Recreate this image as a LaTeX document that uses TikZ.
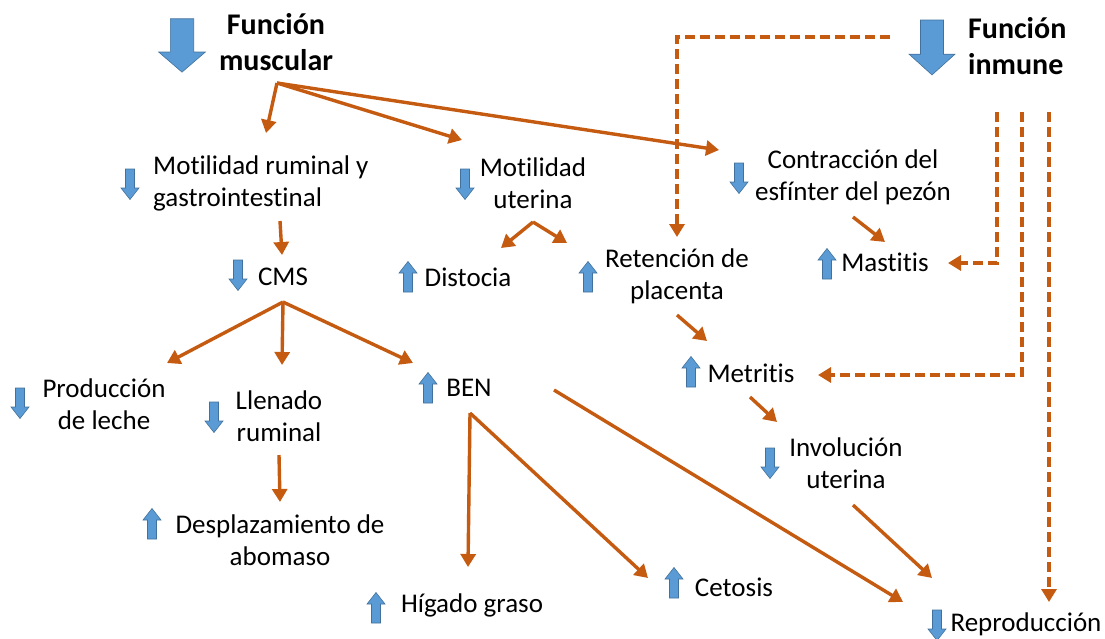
\documentclass[tikz,border=0pt]{standalone}
\usepackage{fontspec}
\setmainfont{Carlito}[Ligatures = {NoCommon, NoContextual}]
\usetikzlibrary{arrows.meta}
\definecolor{naranja}{HTML}{C55A11}
\definecolor{azul}{HTML}{5B9BD5}
\definecolor{azulosc}{HTML}{41719C}
\newcommand{\sinlig}{\kern0pt}

\begin{document}
\begin{tikzpicture}[x = 1pt, y = -1pt,
		txt/.style = {font = \fontsize{27}{32}\selectfont, align = center, inner sep = 0pt},
		tit/.style = {font = \fontsize{30}{36}\selectfont\bfseries, inner sep = 0pt},
		flecha/.style = {draw = naranja, line width = 3.4pt, -{Triangle[length = 13pt, width = 15pt]}},
		guion/.style = {flecha, dash pattern = on 10pt off 5pt},
		bajo/.pic = {\filldraw[fill = azul, draw = azulosc, line width = 0.6pt] (-4.5, -15) -- (4.5, -15) -- (4.5, 4) -- (9, 4) -- (0, 15.5) -- (-9, 4) -- (-4.5, 4) -- cycle;},
		sube/.pic = {\filldraw[fill = azul, draw = azulosc, line width = 0.6pt] (-4.5, 15) -- (4.5, 15) -- (4.5, -4) -- (9, -4) -- (0, -15.5) -- (-9, -4) -- (-4.5, -4) -- cycle;}]
	\useasboundingbox (0, 0) rectangle (1105, 638);

	\node[tit, align = center] (musc) at (276, 42) {Función\\muscular};
	\node[tit, align = left, anchor = west] (inmu) at (968, 46) {Función\\inmune};
	\node[txt, align = left, anchor = west] (rum) at (153, 183) {Mot\sinlig ilidad ruminal y\\gastrointest\sinlig inal};
	\node[txt] (ute) at (533, 183) {Mot\sinlig ilidad\\uterina};
	\node[txt] (con) at (853, 177) {Contracción del\\esf\sinlig ínter del pezón};
	\node[txt] (cms) at (283, 277) {CMS};
	\node[txt] (dis) at (468, 277) {Distocia};
	\node[txt] (ret) at (677, 276) {Retención de\\placenta};
	\node[txt] (mas) at (885, 262) {Mast\sinlig it\sinlig is};
	\node[txt] (pro) at (104, 404) {Producción\\de leche};
	\node[txt] (lle) at (279, 416) {Llenado\\ruminal};
	\node[txt] (ben) at (469, 388) {BEN};
	\node[txt] (met) at (751, 373) {Metrit\sinlig is};
	\node[txt] (inv) at (846, 463) {Involución\\uterina};
	\node[txt] (des) at (280, 540) {Desplazamiento de\\abomaso};
	\node[txt] (hig) at (472, 605) {Hígado graso};
	\node[txt] (cet) at (734, 587) {Cetosis};
	\node[txt] (rep) at (1026, 624) {Reproducción};

	\pic[xscale = 2.6, yscale = 1.75] at (182, 45) {bajo};
	\pic[xscale = 2.55, yscale = 1.8] at (932, 47) {bajo};
	\pic at (130, 184) {bajo};
	\pic at (465, 184) {bajo};
	\pic at (739, 178) {bajo};
	\pic at (238, 275) {bajo};
	\pic at (408, 277) {sube};
	\pic at (588, 277) {sube};
	\pic at (827, 264) {sube};
	\pic at (20, 403) {bajo};
	\pic at (214, 417) {bajo};
	\pic at (428, 388) {sube};
	\pic at (691, 372) {sube};
	\pic at (770, 463) {bajo};
	\pic at (152, 524) {sube};
	\pic at (376, 608) {sube};
	\pic at (674, 583) {sube};
	\pic at (937, 625) {bajo};

	\coordinate (musc-o) at (277, 83);
	\coordinate (rum-i) at (266, 133);
	\coordinate (ute-i) at (462, 140);
	\coordinate (con-i) at (719, 150);
	\coordinate (rum-o) at (280, 221);
	\coordinate (cms-i) at (282, 255);
	\coordinate (cms-o) at (283, 302);
	\coordinate (pro-i) at (167, 363);
	\coordinate (lle-i) at (282, 365);
	\coordinate (ben-i) at (413, 363);
	\coordinate (ute-o) at (533, 222);
	\coordinate (dis-i) at (501, 248);
	\coordinate (ret-i) at (567, 243);
	\coordinate (con-o) at (853, 217);
	\coordinate (mas-i) at (885, 242);
	\coordinate (lle-o) at (279, 455);
	\coordinate (des-i) at (280, 502);
	\coordinate (ben-o) at (470, 413);
	\coordinate (hig-i) at (468, 567);
	\coordinate (cet-i) at (648, 578);
	\coordinate (ben-r) at (554, 390);
	\coordinate (rep-b) at (903, 602);
	\coordinate (ret-o) at (677, 315);
	\coordinate (met-i) at (707, 341);
	\coordinate (met-o) at (750, 397);
	\coordinate (inv-i) at (777, 422);
	\coordinate (inv-o) at (853, 505);
	\coordinate (rep-i) at (932, 578);

	\draw[flecha] (musc-o) -- (rum-i);
	\draw[flecha] (musc-o) -- (ute-i);
	\draw[flecha] (musc-o) -- (con-i);
	\draw[flecha] (rum-o) -- (cms-i);
	\draw[flecha] (cms-o) -- (pro-i);
	\draw[flecha] (cms-o) -- (lle-i);
	\draw[flecha] (cms-o) -- (ben-i);
	\draw[flecha] (ute-o) -- (dis-i);
	\draw[flecha] (ute-o) -- (ret-i);
	\draw[flecha] (con-o) -- (mas-i);
	\draw[flecha] (lle-o) -- (des-i);
	\draw[flecha] (ben-o) -- (hig-i);
	\draw[flecha] (ben-o) -- (cet-i);
	\draw[flecha] (ben-r) -- (rep-b);
	\draw[flecha] (ret-o) -- (met-i);
	\draw[flecha] (met-o) -- (inv-i);
	\draw[flecha] (inv-o) -- (rep-i);

	\coordinate (inmu-a) at (890, 37);
	\coordinate (ret-d) at (677, 237);
	\coordinate (inmu-b) at (997, 112);
	\coordinate (mas-d) at (948, 263);
	\coordinate (inmu-c) at (1022, 112);
	\coordinate (met-d) at (818, 375);
	\coordinate (inmu-e) at (1049, 112);
	\coordinate (rep-d) at (1049, 602);

	\draw[guion] (inmu-a) -| (ret-d);
	\draw[guion] (inmu-b) |- (mas-d);
	\draw[guion] (inmu-c) |- (met-d);
	\draw[guion] (inmu-e) -- (rep-d);
\end{tikzpicture}
\end{document}
